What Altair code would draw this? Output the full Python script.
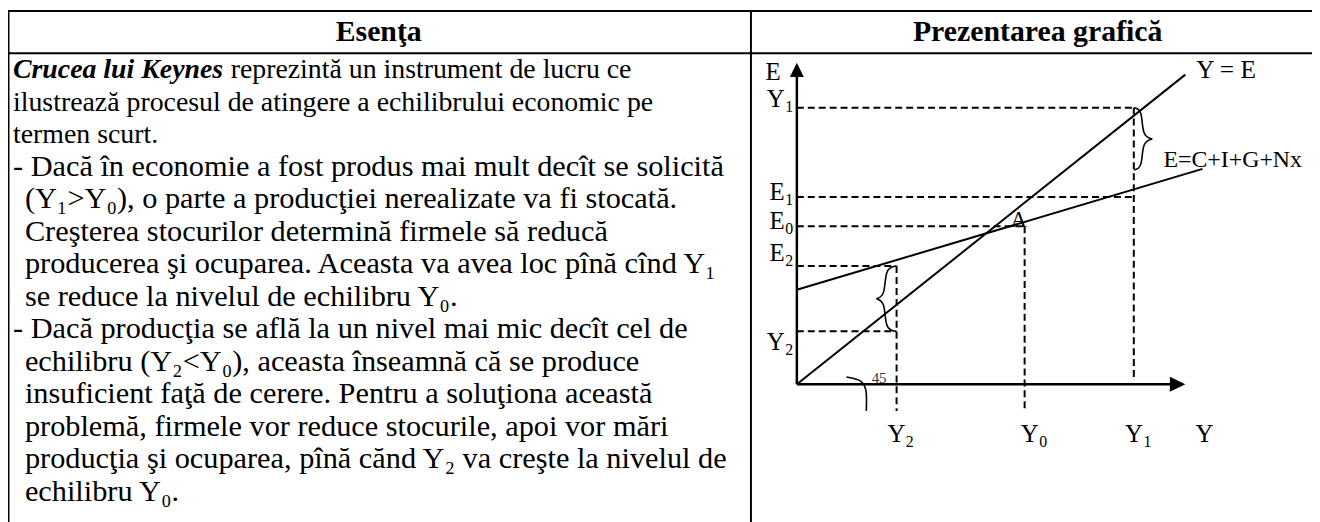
import altair as alt
import pandas as pd

FONT = "Liberation Serif"
W, H = 1312, 514

# ---------------- table text ----------------
headers = ["Esenţa", "Prezentarea grafică"]
lead = "Crucea lui Keynes"
line0_rest = "reprezintă un instrument de lucru ce"
lines = [
    "ilustrează procesul de atingere a echilibrului economic pe",
    "termen scurt.",
    "- Dacă în economie a fost produs mai mult decît se solicită",
    "(Y₁>Y₀), o parte a producţiei nerealizate va fi stocată.",
    "Creşterea stocurilor determină firmele să reducă",
    "producerea şi ocuparea. Aceasta va avea loc pînă cînd Y₁",
    "se reduce la nivelul de echilibru Y₀.",
    "- Dacă producţia se află la un nivel mai mic decît cel de",
    "echilibru (Y₂<Y₀), aceasta înseamnă că se produce",
    "insuficient faţă de cerere. Pentru a soluţiona această",
    "problemă, firmele vor reduce stocurile, apoi vor mări",
    "producţia şi ocuparea, pînă cănd Y₂ va creşte la nivelul de",
    "echilibru Y₀.",
]
indent = [0, 0, 0, 1, 1, 1, 1, 0, 1, 1, 1, 1, 1]
paragraph = [1, 1, 2, 2, 2, 2, 2, 3, 3, 3, 3, 3, 3]

# ---------------- diagram values (Y horizontal, E vertical) ----------------
Y2, Y0, Y1 = 29.6, 67.6, 100.0
lvl_Y1, lvl_E1, lvl_E0, lvl_E2, lvl_Y2 = 103.0, 69.7, 58.8, 44.0, 19.7

# dashed guide segments
dash_x = [0, Y1, 0, 0, Y0, 0, Y2, 0]
dash_y = [lvl_Y1, lvl_Y1, lvl_E1, lvl_E0, lvl_E0, lvl_E2, lvl_E2, lvl_Y2]
dash_x2 = [Y1, Y1, Y1, Y0, Y0, Y2, Y2, Y2]
dash_y2 = [lvl_Y1, 1.5, lvl_E1, lvl_E0, -10, lvl_E2, -10, lvl_Y2]

# solid lines: x axis, y axis, Y = E, E = C+I+G+Nx
sol_x = [0, 0, 0, 0]
sol_y = [0, 0, 0, 35.2]
sol_x2 = [111.0, 0, 115.3, 120.4]
sol_y2 = [0, 114.6, 115.3, 80.2]

# arrow heads
xarr_x = [110.7, 115.3]
xarr_y = [2.8, 0]
xarr_y2 = [-2.8, 0]
yarr_y = [114.4, 119.7]
yarr_x = [-2.06, 0]
yarr_x2 = [2.06, 0]

# braces and the 45-degree arc
brace_id = [1] * 8 + [2] * 8 + [3] * 4
brace_x = [29.3, 26.2, 26.2, 23.6, 23.6, 26.2, 26.2, 29.3,
           100.1, 102.5, 102.5, 105.5, 105.5, 102.5, 102.5, 100.1,
           14.7, 19.6, 20.8, 20.6]
brace_y = [44.0, 43.2, 33.0, 31.85, 31.85, 30.7, 20.5, 19.7,
           103.0, 102.2, 92.4, 91.3, 91.3, 90.2, 80.6, 79.8,
           2.7, 1.6, -2.5, -9.9]

# labels: letter + subscript (anchored at the boundary between them)
lab_main = ["Y", "E", "E", "E", "Y", "Y", "Y", "Y"]
lab_sub = ["1", "1", "0", "2", "2", "2", "0", "1"]
lab_x = [-3.6, -3.6, -3.6, -3.6, -3.6, 32.2, 71.8, 102.7]
lab_y = [103.3, 68.7, 57.7, 45.9, 12.6, -21.5, -21.5, -21.5]

plain_text = ["E", "Y", "Y = E", "E=C+I+G+Nx", "A"]
plain_x = [-9.3, 118.3, 118.5, 108.8, 63.4]
plain_y = [113.2, -21.5, 114.2, 80.8, 58.6]
plain_size = [25, 25, 25.5, 24, 23]
angle_text = ["45"]
angle_x = [24.4]
angle_y = [0.5]

# ---------------- helpers ----------------
one = pd.DataFrame({"k": [0]})


def frame_rule(x, y, x2, y2, sw=2):
    return alt.Chart(one).mark_rule(color="black", strokeWidth=sw).encode(
        x=alt.value(x), y=alt.value(y), x2=alt.value(x2), y2=alt.value(y2)
    )


frame = [
    frame_rule(-2, 1.5, W + 2, 1.5),
    frame_rule(-2, 44, W + 2, 44),
    frame_rule(0.5, 0.5, 0.5, H + 2),
    frame_rule(747.5, 0.5, 747.5, H + 2),
]

head_l = alt.Chart(pd.DataFrame({"t": [headers[0]]})).mark_text(
    font=FONT, fontSize=30, fontWeight="bold", align="center", baseline="alphabetic"
).encode(x=alt.value(373), y=alt.value(32), text="t:N")
head_r = alt.Chart(pd.DataFrame({"t": [headers[1]]})).mark_text(
    font=FONT, fontSize=30, fontWeight="bold", align="center", baseline="alphabetic"
).encode(x=alt.value(1036), y=alt.value(32), text="t:N")

FIRST_BASE = 69
STEP = 32.7

lead_txt = alt.Chart(pd.DataFrame({"t": [lead]})).mark_text(
    font=FONT, fontSize=28, fontWeight="bold", fontStyle="italic",
    align="left", baseline="alphabetic"
).encode(x=alt.value(5), y=alt.value(FIRST_BASE), text="t:N")
rest_txt = alt.Chart(pd.DataFrame({"t": [line0_rest]})).mark_text(
    font=FONT, fontSize=28, align="left", baseline="alphabetic"
).encode(x=alt.value(224), y=alt.value(FIRST_BASE), text="t:N")

body_df = pd.DataFrame({
    "t": lines, "ind": indent, "line": list(range(1, len(lines) + 1)),
    "fs": [28 if p == 1 else 30.5 for p in paragraph],
})
body = alt.Chart(body_df).mark_text(
    font=FONT, align="left", baseline="alphabetic", color="black"
).encode(
    x=alt.X("ind:Q", scale=alt.Scale(domain=[0, 1], range=[5, 17], nice=False, zero=False), axis=None),
    y=alt.Y("line:Q", scale=alt.Scale(domain=[0, 13], range=[FIRST_BASE, FIRST_BASE + 13 * STEP],
                                      nice=False, zero=False), axis=None),
    text="t:N",
    size=alt.Size("fs:Q", scale=None, legend=None),
)

table = alt.layer(*frame, head_l, head_r, lead_txt, rest_txt, body)

# ---------------- diagram ----------------
xs = alt.Scale(domain=[0, 100], range=[793.7, 1132.7], nice=False, zero=False)
ys = alt.Scale(domain=[0, 100], range=[377, 106.8], nice=False, zero=False)


def X(f):
    return alt.X(f, type="quantitative", scale=xs, axis=None)


def Y(f):
    return alt.Y(f, type="quantitative", scale=ys, axis=None)


dash_df = pd.DataFrame({"x": dash_x, "y": dash_y, "x2": dash_x2, "y2": dash_y2})
dashed = alt.Chart(dash_df).mark_rule(color="black", strokeWidth=2, strokeDash=[7, 4]).encode(
    x=X("x"), y=Y("y"), x2="x2:Q", y2="y2:Q"
)

sol_df = pd.DataFrame({"x": sol_x, "y": sol_y, "x2": sol_x2, "y2": sol_y2, "w": [2.5, 2.5, 2, 2]})
solid = alt.Chart(sol_df).mark_rule(color="black").encode(
    x=X("x"), y=Y("y"), x2="x2:Q", y2="y2:Q",
    strokeWidth=alt.StrokeWidth("w:Q", scale=None, legend=None),
)

xarr = alt.Chart(pd.DataFrame({"x": xarr_x, "y": xarr_y, "y2": xarr_y2})).mark_area(
    color="black", orient="vertical"
).encode(x=X("x"), y=Y("y"), y2="y2:Q")
yarr = alt.Chart(pd.DataFrame({"y": yarr_y, "x": yarr_x, "x2": yarr_x2})).mark_area(
    color="black", orient="horizontal"
).encode(y=Y("y"), x=X("x"), x2="x2:Q")

br_df = pd.DataFrame({"x": brace_x, "y": brace_y, "id": brace_id, "o": list(range(len(brace_x)))})
braces = alt.Chart(br_df).mark_line(color="black", strokeWidth=1.6, interpolate="basis").encode(
    x=X("x"), y=Y("y"), detail="id:N", order="o:Q"
)

lab_df = pd.DataFrame({"m": lab_main, "s": lab_sub, "x": lab_x, "y": lab_y})
lab_main_mk = alt.Chart(lab_df).mark_text(
    font=FONT, fontSize=25, align="right", baseline="alphabetic", color="black"
).encode(x=X("x"), y=Y("y"), text="m:N")
lab_sub_mk = alt.Chart(lab_df).mark_text(
    font=FONT, fontSize=16, align="left", baseline="alphabetic", color="black", dy=5, dx=0.5
).encode(x=X("x"), y=Y("y"), text="s:N")

plain_df = pd.DataFrame({"t": plain_text, "x": plain_x, "y": plain_y, "fs": plain_size})
plain = alt.Chart(plain_df).mark_text(
    font=FONT, align="left", baseline="alphabetic", color="black"
).encode(
    x=X("x"), y=Y("y"), text="t:N",
    size=alt.Size("fs:Q", scale=None, legend=None),
)
angle = alt.Chart(pd.DataFrame({"t": angle_text, "x": angle_x, "y": angle_y})).mark_text(
    font=FONT, fontSize=15, align="center", baseline="alphabetic", color="#333333"
).encode(x=X("x"), y=Y("y"), text="t:N")

diagram = alt.layer(dashed, solid, xarr, yarr, braces, lab_main_mk, lab_sub_mk, plain, angle)

chart = (
    alt.layer(table, diagram)
    .resolve_scale(x="independent", y="independent")
    .properties(width=W, height=H, padding=0, autosize=alt.AutoSizeParams(type="none"),
                background="white")
    .configure_view(stroke=None)
)

chart.save("out.html", embed_options={"renderer": "svg", "actions": False})
